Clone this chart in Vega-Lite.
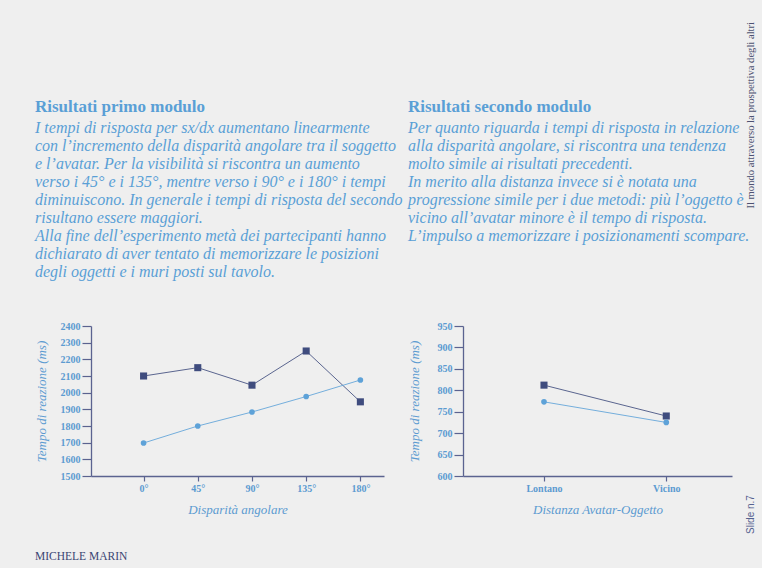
{
  "$schema": "https://vega.github.io/schema/vega-lite/v6.json",
  "background": "#efefef",
  "padding": {"left": 34, "top": 22, "right": 5, "bottom": 5},
  "title": {
    "text": "Il mondo attraverso la prospettiva degli altri",
    "orient": "right", "anchor": "start", "frame": "bounds",
    "angle": 270, "align": "right", "baseline": "bottom",
    "font": "Liberation Serif", "fontSize": 10.6, "fontWeight": "normal", "fontStyle": "normal",
    "color": "#4d5272", "offset": -11, "dx": 76
  },
  "vconcat": [
    {
      "title": {"text": "MICHELE MARIN", "orient": "bottom", "anchor": "start", "frame": "bounds", "font": "Liberation Serif", "fontSize": 11.5, "fontWeight": "normal", "fontStyle": "normal", "color": "#3a4573", "offset": 17},
      "vconcat": [
        {
          "title": {"text": "Slide n.7", "orient": "right", "anchor": "end", "frame": "bounds", "angle": 270, "align": "left", "baseline": "bottom", "font": "Liberation Sans", "fontSize": 10, "fontWeight": "normal", "fontStyle": "normal", "color": "#55628f", "offset": -3, "dx": -18},
          "spacing": 4,
          "resolve": {"scale": {"x": "independent", "y": "independent"}},
          "hconcat": [
            {
              "width": 293, "height": 150,
              "title": {
                "text": "Risultati primo modulo",
                "offset": 40,
                "subtitle": [
                  "I tempi di risposta per sx/dx aumentano linearmente",
                  "con l’incremento della disparità angolare tra il soggetto",
                  "e l’avatar. Per la visibilità si riscontra un aumento",
                  "verso i 45° e i 135°, mentre verso i 90° e i 180° i tempi",
                  "diminuiscono. In generale i tempi di risposta del secondo",
                  "risultano essere maggiori.",
                  "Alla fine dell’esperimento metà dei partecipanti hanno",
                  "dichiarato di aver tentato di memorizzare le posizioni",
                  "degli oggetti e i muri posti sul tavolo."
                ]
              },
              "data": {"values": [
                {"angolo": "0°", "serie": "visibilità", "tempo": 2100},
                {"angolo": "45°", "serie": "visibilità", "tempo": 2150},
                {"angolo": "90°", "serie": "visibilità", "tempo": 2045},
                {"angolo": "135°", "serie": "visibilità", "tempo": 2250},
                {"angolo": "180°", "serie": "visibilità", "tempo": 1945},
                {"angolo": "0°", "serie": "sx/dx", "tempo": 1698},
                {"angolo": "45°", "serie": "sx/dx", "tempo": 1800},
                {"angolo": "90°", "serie": "sx/dx", "tempo": 1884},
                {"angolo": "135°", "serie": "sx/dx", "tempo": 1977},
                {"angolo": "180°", "serie": "sx/dx", "tempo": 2076}
              ]},
              "encoding": {
                "x": {"field": "angolo", "type": "ordinal", "sort": ["0°", "45°", "90°", "135°", "180°"],
                      "scale": {"type": "point", "padding": 0.703, "align": 0.69},
                      "axis": {"title": "Disparità angolare", "labelAngle": 0}},
                "y": {"field": "tempo", "type": "quantitative",
                      "scale": {"domain": [1500, 2400], "nice": false, "zero": false},
                      "axis": {"title": "Tempo di reazione (ms)", "format": "d", "values": [1500, 1600, 1700, 1800, 1900, 2000, 2100, 2200, 2300, 2400]}},
                "color": {"field": "serie", "type": "nominal", "scale": {"domain": ["visibilità", "sx/dx"], "range": ["#3f4c7e", "#5ea2d8"]}, "legend": null}
              },
              "layer": [
                {"mark": {"type": "line", "strokeWidth": 1, "strokeOpacity": 0.85}},
                {"mark": {"type": "point", "filled": true, "opacity": 1},
                 "encoding": {
                   "shape": {"field": "serie", "type": "nominal", "scale": {"domain": ["visibilità", "sx/dx"], "range": ["square", "circle"]}, "legend": null},
                   "size": {"field": "serie", "type": "ordinal", "scale": {"domain": ["visibilità", "sx/dx"], "range": [50, 32]}, "legend": null}
                 }}
              ]
            },
            {
              "width": 269, "height": 150,
              "title": {
                "text": "Risultati secondo modulo",
                "offset": 76,
                "subtitle": [
                  "Per quanto riguarda i tempi di risposta in relazione",
                  "alla disparità angolare, si riscontra una tendenza",
                  "molto simile ai risultati precedenti.",
                  "In merito alla distanza invece si è notata una",
                  "progressione simile per i due metodi: più l’oggetto è",
                  "vicino all’avatar minore è il tempo di risposta.",
                  "L’impulso a memorizzare i posizionamenti scompare."
                ]
              },
              "data": {"values": [
                {"distanza": "Lontano", "serie": "visibilità", "tempo": 812},
                {"distanza": "Vicino", "serie": "visibilità", "tempo": 740},
                {"distanza": "Lontano", "serie": "sx/dx", "tempo": 773},
                {"distanza": "Vicino", "serie": "sx/dx", "tempo": 725}
              ]},
              "encoding": {
                "x": {"field": "distanza", "type": "ordinal", "sort": ["Lontano", "Vicino"],
                      "scale": {"type": "point", "padding": 0.6, "align": 0.552},
                      "axis": {"title": "Distanza Avatar-Oggetto", "labelAngle": 0}},
                "y": {"field": "tempo", "type": "quantitative",
                      "scale": {"domain": [600, 950], "nice": false, "zero": false},
                      "axis": {"title": "Tempo di reazione (ms)", "titlePadding": 16, "format": "d", "values": [600, 650, 700, 750, 800, 850, 900, 950]}},
                "color": {"field": "serie", "type": "nominal", "scale": {"domain": ["visibilità", "sx/dx"], "range": ["#3f4c7e", "#5ea2d8"]}, "legend": null}
              },
              "layer": [
                {"mark": {"type": "line", "strokeWidth": 1, "strokeOpacity": 0.85}},
                {"mark": {"type": "point", "filled": true, "opacity": 1},
                 "encoding": {
                   "shape": {"field": "serie", "type": "nominal", "scale": {"domain": ["visibilità", "sx/dx"], "range": ["square", "circle"]}, "legend": null},
                   "size": {"field": "serie", "type": "ordinal", "scale": {"domain": ["visibilità", "sx/dx"], "range": [50, 32]}, "legend": null}
                 }}
              ]
            }
          ]
        }
      ]
    }
  ],
  "config": {
    "view": {"stroke": null},
    "font": "Liberation Serif",
    "title": {"anchor": "start", "frame": "bounds", "font": "Liberation Serif", "fontSize": 17, "fontWeight": "bold", "color": "#5a9fd6",
              "subtitleFont": "Liberation Serif", "subtitleFontStyle": "italic", "subtitleFontSize": 16, "subtitleColor": "#5a9fd6",
              "subtitleLineHeight": 18, "subtitlePadding": 4},
    "axis": {"grid": false, "domainColor": "#5b6390", "domainWidth": 1.3, "tickColor": "#5b6390", "tickWidth": 1.2,
             "labelFont": "Liberation Serif", "labelFontWeight": "bold", "labelFontSize": 10, "labelColor": "#5c9bd1",
             "titleFont": "Liberation Serif", "titleFontStyle": "italic", "titleFontWeight": "normal", "titleFontSize": 13, "titleColor": "#5c9bd1"},
    "axisX": {"tickSize": 5, "labelPadding": 2, "titlePadding": 10},
    "axisY": {"tickSize": 9, "labelPadding": 2, "titlePadding": 12}
  }
}
